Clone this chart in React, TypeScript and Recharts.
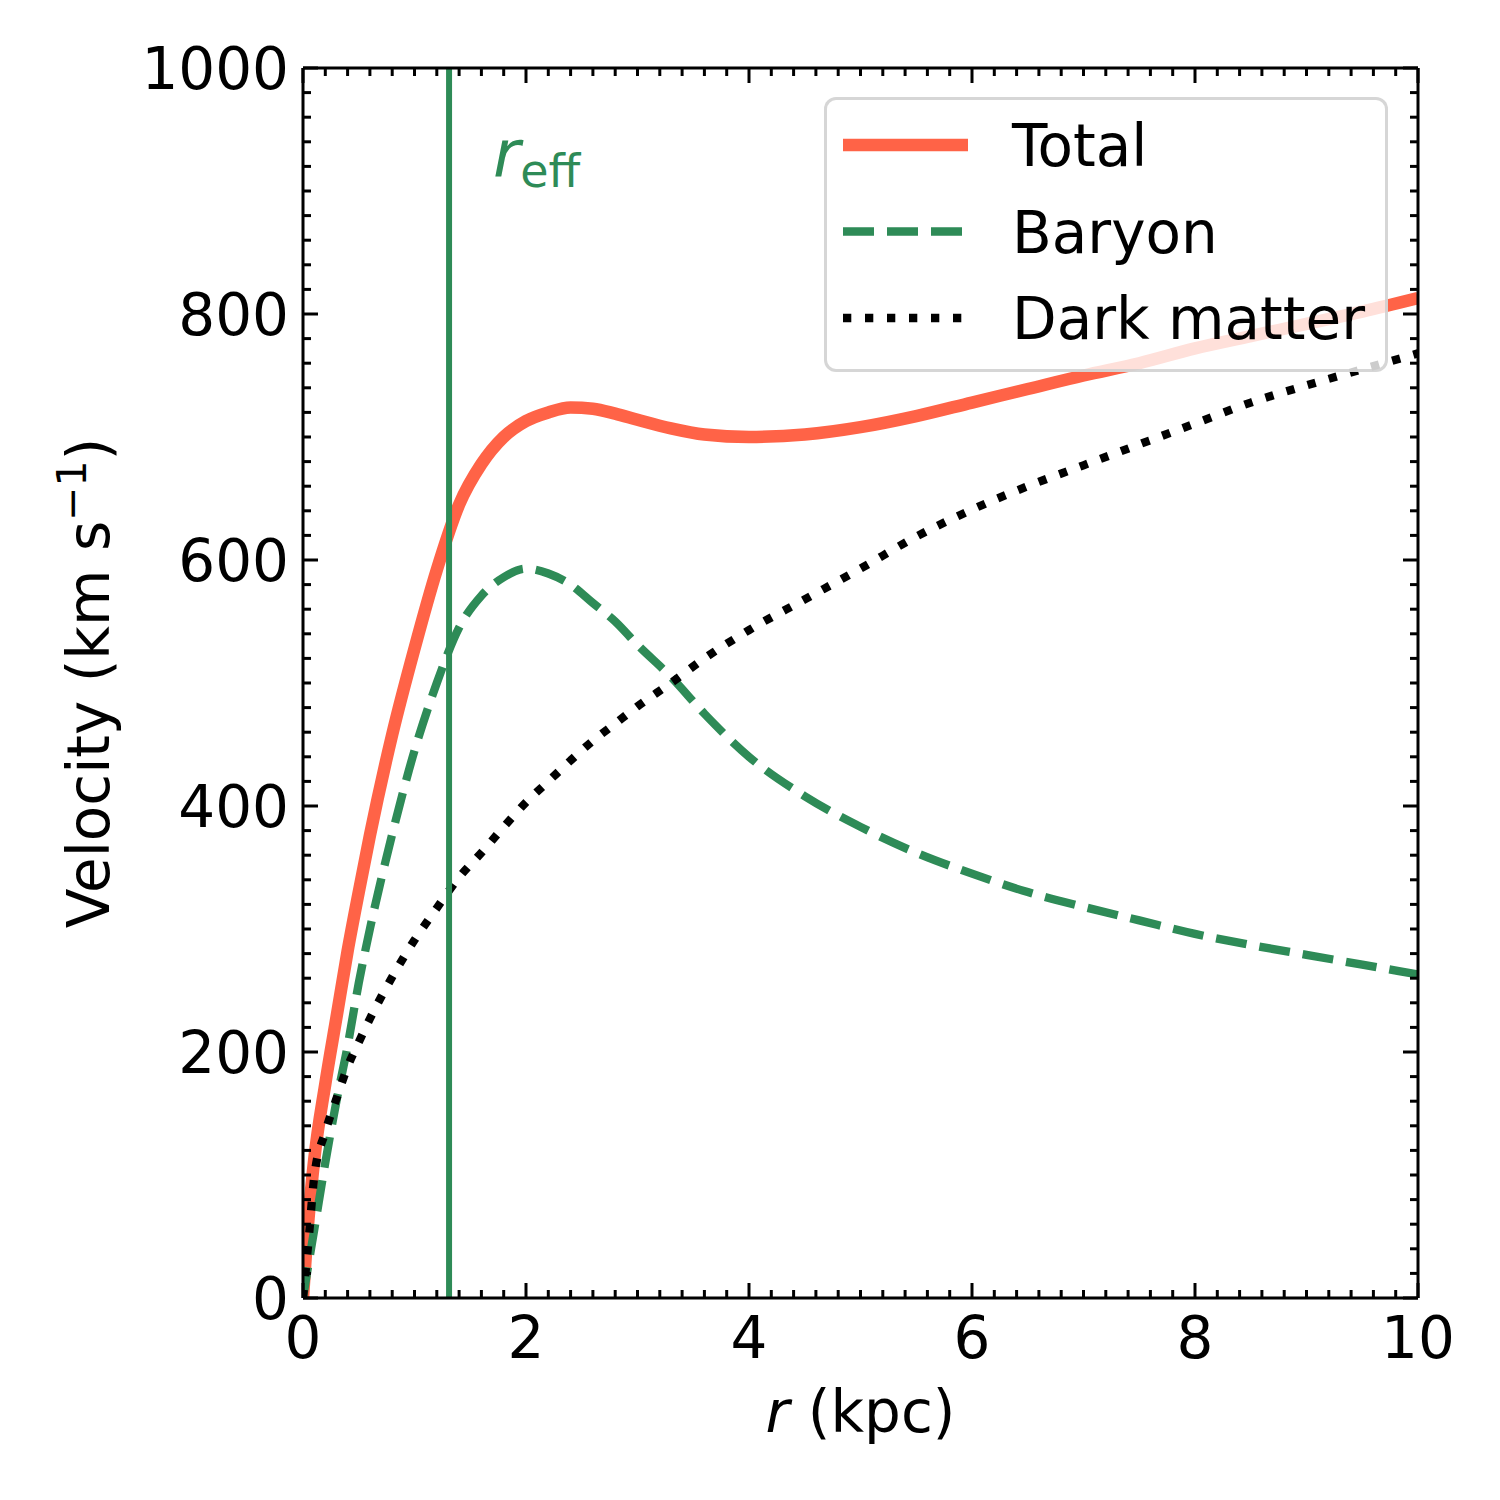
import { LineChart, Line, XAxis, YAxis, ReferenceLine, Legend } from 'recharts'

// radius in kpc, velocities in km/s
const radius = [0, 0.05, 0.1, 0.2, 0.3, 0.4, 0.5, 0.6, 0.8, 1.0, 1.2, 1.4, 1.6, 1.8, 2.0, 2.2, 2.4, 2.6, 2.8, 3.0, 3.3, 3.6, 4.0, 4.5, 5.0, 5.5, 6.0, 6.5, 7.0, 7.5, 8.0, 8.5, 9.0, 9.5, 10]
const totalVelocity = [0, 65, 112, 174, 228, 282, 330, 376, 458, 528, 592, 645, 678, 700, 713, 720, 724, 723, 719, 714, 707, 702, 700, 702, 708, 717, 728, 739, 750, 760, 772, 782, 792, 802, 813]
const baryonVelocity = [0, 28, 55, 110, 160, 205, 256, 300, 377, 445, 500, 545, 571, 586, 593, 589, 580, 565, 550, 531, 505, 475, 440, 408, 383, 362, 345, 330, 318, 307, 296, 287, 279, 271, 263]
const darkMatterVelocity = [0, 47, 98, 135, 162, 188, 208, 227, 261, 291, 317, 342, 362, 383, 403, 420, 437, 453, 467, 481, 500, 520, 543, 568, 593, 619, 641, 660, 677, 694, 711, 728, 742, 755, 768]

const xMajorTicks = [0, 2, 4, 6, 8, 10]
const yMajorTicks = [0, 200, 400, 600, 800, 1000]
const X_MINOR_STEP = 0.2
const Y_MINOR_STEP = 20
const R_EFF = 1.31

const TOMATO = '#ff6347'
const SEAGREEN = '#2e8b57'
const FONT = 'DejaVu Sans'

const legendItems = [
  { key: 'total', label: 'Total', color: TOMATO, width: 12.5, dash: undefined },
  { key: 'baryon', label: 'Baryon', color: SEAGREEN, width: 8.3, dash: '31 13' },
  { key: 'dm', label: 'Dark matter', color: '#000000', width: 8.3, dash: '8.3 13.7' },
]

const data = radius.map((r, i) => ({
  r,
  total: totalVelocity[i],
  baryon: baryonVelocity[i],
  dm: darkMatterVelocity[i],
}))

const makeTicks = (max: number, step: number) =>
  Array.from({ length: Math.round(max / step) + 1 }, (_, i) => +(i * step).toFixed(4))

const xTicks = makeTicks(10, X_MINOR_STEP)
const yTicks = makeTicks(1000, Y_MINOR_STEP)

const MAJOR_LEN = 15
const MINOR_LEN = 8
const TICK_W = 3

const renderBottomTick = ({ x, y, payload }: any) => {
  const major = xMajorTicks.includes(payload.value)
  return (
    <g>
      <line x1={x} x2={x} y1={y} y2={y - (major ? MAJOR_LEN : MINOR_LEN)} stroke="#000" strokeWidth={TICK_W} />
      {major && (
        <text x={x} y={y + 60} textAnchor="middle" fontSize={58} fontFamily={FONT} fill="#000">
          {payload.value}
        </text>
      )}
    </g>
  )
}

const renderTopTick = ({ x, y, payload }: any) => {
  const major = xMajorTicks.includes(payload.value)
  return <line x1={x} x2={x} y1={y} y2={y + (major ? MAJOR_LEN : MINOR_LEN)} stroke="#000" strokeWidth={TICK_W} />
}

const renderLeftTick = ({ x, y, payload }: any) => {
  const major = yMajorTicks.includes(payload.value)
  return (
    <g>
      <line x1={x} x2={x + (major ? MAJOR_LEN : MINOR_LEN)} y1={y} y2={y} stroke="#000" strokeWidth={TICK_W} />
      {major && (
        <text x={x - 14} y={y + 21} textAnchor="end" fontSize={58} fontFamily={FONT} fill="#000">
          {payload.value}
        </text>
      )}
    </g>
  )
}

const renderRightTick = ({ x, y, payload }: any) => {
  const major = yMajorTicks.includes(payload.value)
  return <line x1={x} x2={x - (major ? MAJOR_LEN : MINOR_LEN)} y1={y} y2={y} stroke="#000" strokeWidth={TICK_W} />
}

const renderXLabel = ({ viewBox }: any) => (
  <text x={viewBox.x + viewBox.width / 2} y={viewBox.y + 134} textAnchor="middle" fontSize={58} fontFamily={FONT} fill="#000">
    <tspan fontStyle="italic">r</tspan>
    <tspan> (kpc)</tspan>
  </text>
)

const renderYLabel = ({ viewBox }: any) => {
  const x = viewBox.x + viewBox.width - 194
  const y = viewBox.y + viewBox.height / 2
  return (
    <text x={x} y={y} transform={`rotate(-90, ${x}, ${y})`} textAnchor="middle" fontSize={58} fontFamily={FONT} fill="#000">
      <tspan>Velocity (km s</tspan>
      <tspan fontSize={41} dy={-23}>−1</tspan>
      <tspan dy={23}>)</tspan>
    </text>
  )
}

const renderReffLabel = ({ viewBox }: any) => (
  <text x={viewBox.x + 44} y={viewBox.y + 109} fill={SEAGREEN} fontFamily={FONT}>
    <tspan fontStyle="italic" fontSize={66}>r</tspan>
    <tspan fontSize={46} dy={10}>eff</tspan>
  </text>
)

const renderLegend = () => (
  <div
    style={{
      position: 'relative',
      boxSizing: 'border-box',
      width: 564,
      height: 275,
      background: 'rgba(255,255,255,0.8)',
      border: '3.5px solid rgba(204,204,204,0.8)',
      borderRadius: 12,
    }}
  >
    <svg width={564} height={275} style={{ position: 'absolute', left: -3.5, top: -3.5 }}>
      {legendItems.map((item, i) => {
        const cy = 48 + i * 86.5
        return (
          <g key={item.key}>
            <line x1={19} x2={144} y1={cy} y2={cy} stroke={item.color} strokeWidth={item.width} strokeDasharray={item.dash} />
            <text x={188} y={cy + 21} fontSize={58} fontFamily={FONT} fill="#000">
              {item.label}
            </text>
          </g>
        )
      })}
    </svg>
  </div>
)

export default function App() {
  return (
    <div style={{ position: 'absolute', left: 0, top: 0, width: 1500, height: 1500, background: '#fff' }}>
      <LineChart width={1500} height={1500} data={data} margin={{ top: 67, right: 81, bottom: 201, left: 302 }}>
        <XAxis
          dataKey="r"
          type="number"
          domain={[0, 10]}
          allowDataOverflow
          ticks={xTicks}
          interval={0}
          height={1}
          tickSize={0}
          tickMargin={0}
          tickLine={false}
          tick={renderBottomTick}
          axisLine={{ stroke: '#000', strokeWidth: 3 }}
          label={renderXLabel}
        />
        <XAxis
          xAxisId="top"
          orientation="top"
          dataKey="r"
          type="number"
          domain={[0, 10]}
          allowDataOverflow
          ticks={xTicks}
          interval={0}
          height={1}
          tickSize={0}
          tickMargin={0}
          tickLine={false}
          tick={renderTopTick}
          axisLine={{ stroke: '#000', strokeWidth: 3 }}
        />
        <YAxis
          type="number"
          domain={[0, 1000]}
          allowDataOverflow
          ticks={yTicks}
          interval={0}
          width={1}
          tickSize={0}
          tickMargin={0}
          tickLine={false}
          tick={renderLeftTick}
          axisLine={{ stroke: '#000', strokeWidth: 3 }}
          label={renderYLabel}
        />
        <YAxis
          yAxisId="right"
          orientation="right"
          type="number"
          domain={[0, 1000]}
          allowDataOverflow
          ticks={yTicks}
          interval={0}
          width={1}
          tickSize={0}
          tickMargin={0}
          tickLine={false}
          tick={renderRightTick}
          axisLine={{ stroke: '#000', strokeWidth: 3 }}
        />
        <Line type="monotone" dataKey="total" stroke={TOMATO} strokeWidth={12.5} dot={false} activeDot={false} isAnimationActive={false} />
        <Line type="monotone" dataKey="baryon" stroke={SEAGREEN} strokeWidth={8.3} strokeDasharray="31 13" dot={false} activeDot={false} isAnimationActive={false} />
        <Line type="monotone" dataKey="dm" stroke="#000" strokeWidth={8.3} strokeDasharray="8.3 13.7" dot={false} activeDot={false} isAnimationActive={false} />
        <ReferenceLine x={R_EFF} stroke={SEAGREEN} strokeWidth={6} label={renderReffLabel} />
        <Legend
          layout="horizontal"
          verticalAlign="middle"
          align="center"
          wrapperStyle={{ left: 824, top: 97, width: 564, height: 275 }}
          content={renderLegend}
        />
      </LineChart>
    </div>
  )
}
